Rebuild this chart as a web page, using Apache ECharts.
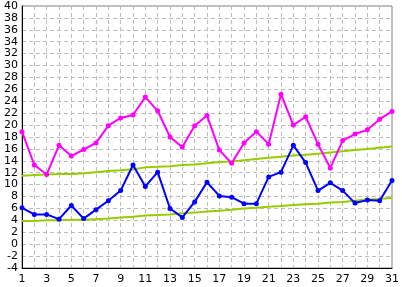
<!DOCTYPE html>
<html>
<head>
<meta charset="utf-8">
<script src="https://cdn.jsdelivr.net/npm/echarts@6/dist/echarts.min.js"></script>
<style>
  html, body { margin: 0; padding: 0; background: #fff; }
  #chart { width: 402px; height: 287px; }
</style>
</head>
<body>
<div id="chart"></div>
<script>
// 日付 (1〜31日)
var days = [];
for (var d = 1; d <= 31; d++) days.push(String(d));

// 最高気温
var maxTemp = [18.9, 13.3, 11.7, 16.6, 14.8, 15.9, 17.0, 19.9, 21.2, 21.7,
               24.7, 22.4, 18.0, 16.3, 19.9, 21.6, 15.8, 13.6, 17.0, 18.9,
               16.8, 25.2, 20.0, 21.4, 16.8, 12.8, 17.4, 18.5, 19.2, 21.0, 22.3];
// 最低気温
var minTemp = [6.1, 5.0, 5.0, 4.2, 6.5, 4.3, 5.8, 7.3, 9.0, 13.3,
               9.7, 12.1, 6.0, 4.5, 7.1, 10.4, 8.1, 7.9, 6.8, 6.8,
               11.3, 12.1, 16.6, 13.7, 9.0, 10.3, 9.0, 6.9, 7.4, 7.3, 10.7];
// 平年値（最高）
var normalMax = [11.5, 11.6, 11.7, 11.8, 11.8, 11.9, 12.1, 12.3, 12.4, 12.6,
                 12.9, 13.0, 13.1, 13.3, 13.4, 13.6, 13.8, 13.9, 14.1, 14.3,
                 14.5, 14.7, 14.9, 15.0, 15.2, 15.4, 15.6, 15.8, 16.0, 16.2, 16.4];
// 平年値（最低）
var normalMin = [3.9, 3.9, 4.0, 4.0, 4.1, 4.1, 4.2, 4.3, 4.5, 4.6,
                 4.8, 4.9, 5.0, 5.2, 5.3, 5.5, 5.6, 5.8, 6.0, 6.1,
                 6.3, 6.4, 6.6, 6.7, 6.8, 7.0, 7.1, 7.3, 7.5, 7.6, 7.8];

var chart = echarts.init(document.getElementById('chart'));
var labelFont = { color: '#000', fontSize: 11, fontFamily: 'DejaVu Sans' };

var option = {
    animation: false,
    grid: {
        left: 22, right: 7, top: 6, bottom: 19,
        show: true,
        borderColor: '#808080',
        borderWidth: 1
    },
    xAxis: {
        type: 'category',
        data: days,
        boundaryGap: false,
        axisLine: { onZero: false, lineStyle: { color: '#000', width: 1 } },
        axisTick: { show: false },
        axisLabel: Object.assign({ interval: 1, margin: 6 }, labelFont),
        splitLine: { show: true, interval: 0, lineStyle: { color: '#bdbdbd', type: [4, 3] } }
    },
    yAxis: {
        type: 'value',
        min: -4, max: 40, interval: 2,
        axisLine: { show: true, lineStyle: { color: '#000', width: 1 } },
        axisTick: { show: false },
        axisLabel: Object.assign({ margin: 4 }, labelFont),
        splitLine: { show: true, lineStyle: { color: '#bdbdbd', type: [4, 3] } }
    },
    series: [
        {
            name: '平年値（最高）', type: 'line', data: normalMax,
            symbol: 'none', lineStyle: { color: '#99cc00', width: 2 }
        },
        {
            name: '平年値（最低）', type: 'line', data: normalMin,
            symbol: 'none', lineStyle: { color: '#99cc00', width: 2 }
        },
        {
            name: '最高気温', type: 'line', data: maxTemp,
            symbol: 'circle', symbolSize: 5,
            lineStyle: { color: '#ff00ff', width: 2 },
            itemStyle: { color: '#ff00ff' }
        },
        {
            name: '最低気温', type: 'line', data: minTemp,
            symbol: 'circle', symbolSize: 5,
            lineStyle: { color: '#0000ff', width: 2 },
            itemStyle: { color: '#0000ff' }
        }
    ]
};
chart.setOption(option);
</script>
</body>
</html>
